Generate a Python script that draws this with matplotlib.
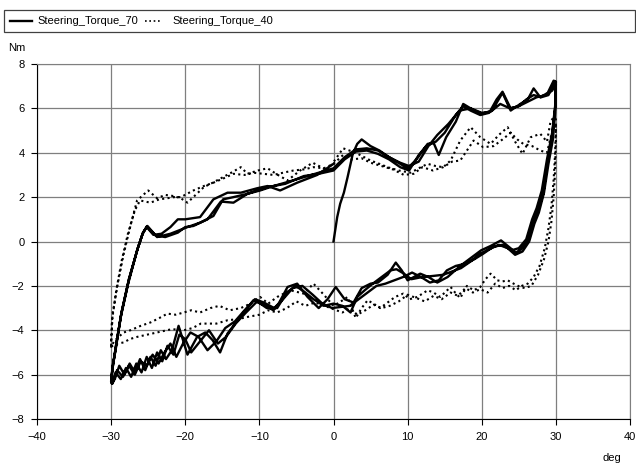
import numpy as np
import matplotlib
matplotlib.use("Agg")
import matplotlib.pyplot as plt
from matplotlib.patches import Rectangle
from matplotlib.lines import Line2D

plt.rcParams['font.family'] = ['Liberation Sans', 'DejaVu Sans']
plt.rcParams['font.size'] = 8

# ---- Steering_Torque_70 (solid), branch by branch ----
t70_ramp_x = [0, 0.5, 0.9, 1.4, 1.9, 2.6, 3.2, 3.8]
t70_ramp_y = [0, 1.1, 1.7, 2.2, 2.9, 3.95, 4.4, 4.6]

t70_up0_x = [3.8, 5.0, 6.2, 7.5, 9.0, 10.0, 11.2, 12.7, 13.5, 14.2, 15.2, 16.5, 17.5, 18.5, 20.0, 21.4,
             22.8, 23.9, 25.2, 26.2, 27.0, 27.9, 28.9, 29.7, 30.0]
t70_up0_y = [4.6, 4.3, 4.1, 3.8, 3.5, 3.3, 3.7, 4.4, 4.45, 3.9, 4.7, 5.4, 6.2, 6.0, 5.75, 5.9,
             6.7, 5.9, 6.2, 6.4, 6.9, 6.5, 6.7, 7.25, 7.2]

t70_dnA_x = [30.0, 29.9, 29.5, 28.9, 28.3, 27.6, 27.0, 26.2, 25.3, 24.6, 23.5, 22.6, 21.2, 19.9, 18.5, 17.1,
             15.4, 14.0, 12.8, 11.7, 10.0, 9.2, 8.4, 7.3, 6.0, 5.0, 3.8, 2.7, 1.5, 0.3, -0.8, -2.0,
             -3.5, -4.9, -6.2, -7.4, -8.1, -9.2, -10.8, -12.6, -14.3, -15.3, -16.3, -17.3, -18.4, -19.7,
             -20.9, -21.8, -22.6, -23.3, -24.0, -24.7, -25.4, -26.1, -26.8, -27.5, -28.2, -28.9, -29.5,
             -29.9, -30.0]
t70_dnA_y = [7.2, 6.0, 4.8, 3.65, 2.15, 1.4, 0.95, 0.05, -0.35, -0.5, -0.2, 0.05, -0.2, -0.4, -0.75, -1.1,
             -1.6, -1.85, -1.6, -1.45, -1.75, -1.3, -0.95, -1.5, -1.85, -1.9, -2.1, -2.75, -2.6, -2.05, -2.6, -3.0,
             -2.5, -1.9, -2.05, -2.8, -3.1, -2.9, -2.65, -3.4, -4.15, -5.0, -4.45, -4.1, -4.3, -5.1,
             -3.8, -4.9, -5.3, -4.9, -5.6, -5.2, -5.8, -5.3, -5.9, -5.5, -6.0, -5.6, -6.2,
             -6.4, -6.3]

t70_up1_x = [-30.0, -29.8, -29.4, -28.7, -27.7, -26.5, -25.8, -25.2, -24.0, -22.7, -21.0, -20.0, -18.9, -17.0,
             -15.2, -13.5, -11.6, -9.9, -8.1, -6.0, -4.0, -2.0, 0.0, 1.5, 3.0, 4.5, 6.0, 7.5, 9.0, 10.2,
             11.5, 12.8, 14.0, 15.5, 17.0, 18.5, 20.0, 21.2, 22.5, 23.8, 25.0, 26.2, 27.4, 28.6, 29.5, 30.0]
t70_up1_y = [-6.3, -5.6, -4.9, -3.4, -1.9, -0.4, 0.3, 0.68, 0.27, 0.2, 0.4, 0.65, 0.7, 1.0,
             1.8, 1.75, 2.15, 2.3, 2.5, 2.7, 2.9, 3.1, 3.3, 3.8, 4.15, 4.2, 4.1, 3.8, 3.55, 3.4,
             3.6, 4.3, 4.8, 5.3, 5.9, 6.0, 5.8, 5.85, 6.2, 6.0, 6.1, 6.3, 6.5, 6.6, 6.8, 7.1]

t70_dnB_x = [30.0, 29.9, 29.6, 29.0, 28.4, 27.7, 27.1, 26.4, 25.5, 24.5, 23.5, 22.3, 21.0, 19.8, 18.5, 17.2,
             16.0, 14.8, 13.5, 12.0, 10.5, 9.5, 8.5, 7.7, 6.5, 5.3, 4.2, 3.2, 2.3, 1.2, 0.0, -1.3,
             -2.7, -3.8, -5.1, -6.3, -7.6, -9.0, -10.3, -11.8, -13.2, -14.5, -15.6, -16.8, -18.0, -19.2,
             -20.0, -20.8, -21.6, -22.4, -23.1, -23.8, -24.5, -25.2, -25.9, -26.6, -27.3, -28.0, -28.7,
             -29.4, -29.9, -30.0]
t70_dnB_y = [7.1, 5.8, 4.6, 3.5, 2.2, 1.3, 0.8, 0.0, -0.45, -0.6, -0.3, -0.15, -0.35, -0.55, -0.9, -1.2,
             -1.35, -1.5, -1.55, -1.6, -1.7, -1.45, -1.25, -1.3, -1.6, -1.9, -2.2, -2.5, -3.2, -2.9, -2.8, -2.9,
             -2.6, -2.3, -2.0, -2.3, -3.0, -3.0, -2.7, -3.2, -3.7, -4.3, -4.6, -4.0, -4.5, -5.0,
             -4.4, -4.2, -5.1, -4.7, -5.4, -5.0, -5.7, -5.2, -5.9, -5.5, -6.1, -5.7, -6.2,
             -5.9, -6.4, -6.3]

t70_up2_x = [-30.0, -29.8, -29.3, -28.6, -27.6, -26.4, -25.7, -25.1, -23.8, -22.0, -19.7, -18.0, -16.2, -14.9,
             -13.5, -11.6, -8.9, -6.5, -4.0, -2.0, 0.0, 1.5, 3.0, 4.5, 6.0, 7.5, 9.0, 10.2, 11.5, 12.5,
             13.8, 15.0, 16.5, 17.5, 18.5, 19.8, 21.0, 22.0, 22.8, 23.9, 25.0, 26.0, 27.0, 28.0, 29.0,
             29.7, 30.0]
t70_up2_y = [-6.3, -5.7, -4.6, -3.2, -1.7, -0.3, 0.4, 0.7, 0.2, 0.35, 0.65, 0.85, 1.15, 1.9,
             2.0, 2.15, 2.45, 2.6, 2.95, 3.05, 3.2, 3.7, 4.05, 4.1, 3.95, 3.7, 3.35, 3.2, 3.9, 4.3,
             4.5, 4.9, 5.7, 6.1, 5.9, 5.7, 5.8, 6.4, 6.75, 6.0, 6.1, 6.4, 6.6, 6.5, 6.6,
             7.1, 7.2]

t70_dnC_x = [30.0, 29.9, 29.5, 28.8, 28.1, 27.4, 26.8, 26.0, 25.0, 24.0, 22.8, 21.5, 20.2, 19.0, 17.8, 16.5,
             15.3, 14.2, 13.0, 11.8, 10.6, 9.4, 8.2, 7.0, 5.8, 4.6, 3.4, 2.2, 1.0, -0.2, -1.5, -2.8,
             -4.2, -5.5, -6.8, -8.0, -9.4, -10.6, -12.0, -13.3, -14.6, -15.8, -17.0, -18.2, -19.3, -20.3,
             -21.2, -22.0, -22.8, -23.6, -24.4, -25.2, -26.0, -26.8, -27.6, -28.4, -29.2, -29.8, -30.0]
t70_dnC_y = [7.2, 6.1, 4.9, 3.7, 2.3, 1.5, 1.0, 0.1, -0.3, -0.4, -0.15, -0.25, -0.55, -0.8, -1.0, -1.1,
             -1.3, -1.75, -1.85, -1.6, -1.4, -1.6, -1.75, -1.9, -2.0, -2.3, -2.6, -2.9, -2.95, -3.0, -2.8, -2.4,
             -2.0, -2.1, -2.6, -3.0, -2.75, -2.6, -3.1, -3.6, -3.9, -4.5, -4.9, -4.3, -4.1, -4.6,
             -5.2, -4.6, -5.0, -5.5, -5.1, -5.6, -5.4, -6.0, -5.6, -6.1, -5.8, -6.4, -6.3]

t70_up3_x = [-30.0, -29.8, -29.3, -28.6, -27.6, -26.4, -25.7, -25.2, -24.3, -23.2, -22.0, -21.0, -20.0, -18.0,
             -16.2, -14.3, -12.5, -10.3, -8.9, -7.2, -4.9, -2.2, 0.0]
t70_up3_y = [-6.3, -5.7, -4.6, -3.2, -1.7, -0.3, 0.4, 0.65, 0.3, 0.35, 0.65, 1.0, 1.0, 1.1,
             1.9, 2.2, 2.2, 2.4, 2.5, 2.3, 2.65, 3.0, 3.5]

# ---- Steering_Torque_40 (dotted) ----
t40_upA_x = [-30.0, -29.8, -29.1, -28.3, -27.4, -26.5, -25.0, -23.8, -22.7, -21.6, -20.6, -19.7, -18.6, -17.5,
             -16.3, -15.2, -13.8, -12.5, -11.6, -10.2, -8.9, -7.5, -6.2, -4.5, -2.8, -0.8, 1.3, 3.0, 5.0,
             6.2, 7.3, 8.8, 10.4, 11.5, 12.7, 13.8, 14.8, 15.8, 17.1, 18.5, 19.8, 21.2, 22.3, 23.5, 24.5,
             25.5, 26.6, 27.9, 28.8, 29.3, 29.8, 30.0]
t40_upA_y = [-4.7, -3.25, -1.9, -0.55, 0.7, 1.85, 2.3, 1.95, 2.1, 2.05, 1.95, 1.75, 2.1, 2.45,
             2.65, 2.85, 3.1, 3.35, 3.05, 3.2, 3.3, 3.0, 2.75, 3.2, 3.55, 3.2, 4.2, 4.0, 3.65,
             3.5, 3.35, 3.2, 3.1, 3.3, 3.5, 3.4, 3.35, 3.65, 4.55, 5.15, 4.7, 4.4, 4.8, 5.15, 4.5,
             3.95, 4.7, 4.85, 4.5, 5.45, 5.6, 5.5]

t40_dnA_x = [30.0, 30.0, 29.9, 29.7, 29.4, 29.0, 28.4, 27.6, 26.7, 25.8, 25.2, 24.3, 23.5, 22.8, 22.1, 21.2,
             20.5, 19.8, 18.9, 18.0, 17.1, 16.4, 15.8, 14.4, 13.5, 12.7, 11.3, 10.3, 9.4, 8.3, 7.3, 6.3,
             5.4, 4.6, 3.8, 3.0, 1.9, 1.0, 0.0, -1.3, -2.7, -4.0, -5.8, -7.6, -8.8, -9.9, -11.2, -12.5,
             -14.0, -15.4, -16.6, -18.0, -19.2, -20.2, -21.3, -22.4, -23.5, -24.7, -26.0, -27.4, -28.3,
             -29.0, -29.6, -30.0]
t40_dnA_y = [5.5, 4.5, 3.2, 2.0, 0.9, 0.0, -0.8, -1.5, -2.0, -2.1, -2.05, -1.9, -1.75, -1.8, -1.75, -1.45,
             -1.7, -2.05, -2.2, -2.0, -2.55, -2.3, -2.05, -2.5, -2.3, -2.2, -2.5, -2.6, -2.35, -2.5, -2.75, -3.0,
             -2.8, -2.65, -3.0, -3.45, -2.5, -2.7, -2.9, -2.4, -1.9, -2.35, -2.2, -2.5, -2.8, -2.5, -2.8, -3.0,
             -3.1, -2.9, -3.0, -3.2, -3.1, -3.2, -3.3, -3.25, -3.45, -3.65, -3.8, -4.0, -4.1,
             -4.3, -4.5, -4.75]

t40_upB_x = [-30.0, -29.9, -29.3, -28.6, -27.7, -26.8, -26.1, -24.7, -23.5, -22.4, -21.5, -20.6, -18.9, -17.5,
             -16.2, -14.8, -13.5, -12.0, -10.8, -9.5, -8.1, -6.8, -5.4, -4.0, -2.7, -1.3, 0.0, 1.3, 2.5,
             3.8, 5.0, 6.5, 8.0, 9.5, 10.8, 12.0, 13.4, 14.8, 16.0, 17.1, 18.9, 20.2, 21.6, 22.8, 23.9,
             24.8, 25.6, 26.8, 27.9, 28.8, 29.3, 29.8, 30.0]
t40_upB_y = [-4.6, -3.6, -2.2, -0.9, 0.4, 1.4, 1.85, 1.75, 1.9, 1.95, 2.0, 2.0, 2.3, 2.5,
             2.65, 2.85, 3.05, 3.0, 3.1, 3.05, 3.0, 3.1, 3.2, 3.25, 3.35, 3.3, 3.5, 3.9, 3.7,
             3.75, 3.55, 3.4, 3.25, 3.0, 3.05, 3.35, 3.2, 3.35, 3.6, 3.65, 4.55, 4.25, 4.3, 4.6, 4.9,
             4.6, 4.4, 4.3, 4.1, 4.0, 4.7, 5.2, 5.3]

t40_dnB_x = [30.0, 29.9, 29.7, 29.4, 29.0, 28.5, 27.8, 27.0, 26.2, 25.4, 24.6, 23.7, 22.8, 21.8, 20.8, 19.8,
             18.8, 17.8, 16.8, 15.8, 14.6, 13.5, 12.3, 11.2, 10.0, 8.8, 7.6, 6.5, 5.4, 4.3, 3.2, 2.2,
             1.2, 0.0, -1.2, -2.5, -3.8, -5.0, -6.3, -7.6, -8.8, -10.0, -11.6, -12.9, -14.3, -15.8,
             -17.9, -19.0, -20.2, -21.8, -23.8, -25.2, -26.5, -27.5, -28.3, -29.2, -29.8, -30.0]
t40_dnB_y = [5.3, 4.0, 2.8, 1.6, 0.6, -0.3, -1.1, -1.6, -1.9, -2.0, -2.2, -2.0, -2.1, -1.9, -2.3, -2.15,
             -2.3, -2.1, -2.45, -2.3, -2.6, -2.45, -2.7, -2.55, -2.4, -2.7, -2.9, -3.0, -2.85, -3.1, -3.3, -3.0,
             -3.2, -3.05, -2.9, -2.75, -2.9, -2.7, -3.0, -3.2, -3.1, -3.3, -3.4, -3.5, -3.55, -3.7,
             -3.7, -3.9, -4.0, -3.95, -4.1, -4.2, -4.3, -4.4, -4.55, -4.6, -4.7, -4.75]

x_ticks = [-40, -30, -20, -10, 0, 10, 20, 30, 40]
y_ticks = [-8, -6, -4, -2, 0, 2, 4, 6, 8]


def main():
    t70_x = np.concatenate([t70_ramp_x, t70_up0_x, t70_dnA_x, t70_up1_x, t70_dnB_x,
                            t70_up2_x, t70_dnC_x, t70_up3_x])
    t70_y = np.concatenate([t70_ramp_y, t70_up0_y, t70_dnA_y, t70_up1_y, t70_dnB_y,
                            t70_up2_y, t70_dnC_y, t70_up3_y])
    t40_x = np.concatenate([t40_upA_x, t40_dnA_x, t40_upB_x, t40_dnB_x])
    t40_y = np.concatenate([t40_upA_y, t40_dnA_y, t40_upB_y, t40_dnB_y])

    fig = plt.figure(figsize=(6.36, 4.67), dpi=100)
    ax = fig.add_axes([37 / 636, 1 - 419 / 467, 593 / 636, 355 / 467])

    ax.plot(t40_x, t40_y, color='black', lw=1.5, linestyle=(0, (1, 1.6)))
    ax.plot(t70_x, t70_y, color='black', lw=1.7, solid_joinstyle='round')

    ax.set_xlim(-40, 40)
    ax.set_ylim(-8, 8)
    ax.set_xticks(x_ticks)
    ax.set_yticks(y_ticks)
    ax.grid(True, color='#7f7f7f', lw=0.9)
    ax.set_axisbelow(True)
    ax.spines['top'].set_color('#7f7f7f')
    ax.spines['right'].set_color('#7f7f7f')
    ax.tick_params(direction='out', length=4, width=0.8, labelsize=8, pad=5)

    fig.text(8 / 636, 1 - 48 / 467, 'Nm', fontsize=8, va='center', ha='left')
    fig.text(612 / 636, 1 - 458 / 467, 'deg', fontsize=8, va='center', ha='center')

    # legend box along the top
    fig.patches.append(Rectangle((4 / 636, 1 - 32 / 467), 0.999 - 4 / 636, 22 / 467,
                                 transform=fig.transFigure, fill=False, ec='#404040', lw=0.9))
    ly = 1 - 21 / 467
    fig.lines.append(Line2D([10 / 636, 32 / 636], [ly, ly], transform=fig.transFigure,
                            color='black', lw=1.7))
    fig.text(37 / 636, ly, 'Steering_Torque_70', fontsize=8, va='center', ha='left')
    fig.lines.append(Line2D([145 / 636, 161 / 636], [ly, ly], transform=fig.transFigure,
                            color='black', lw=1.2, linestyle=(0, (1, 1.6))))
    fig.text(172 / 636, ly, 'Steering_Torque_40', fontsize=8, va='center', ha='left')

    fig.savefig('out.png', dpi=100)


if __name__ == '__main__':
    main()
